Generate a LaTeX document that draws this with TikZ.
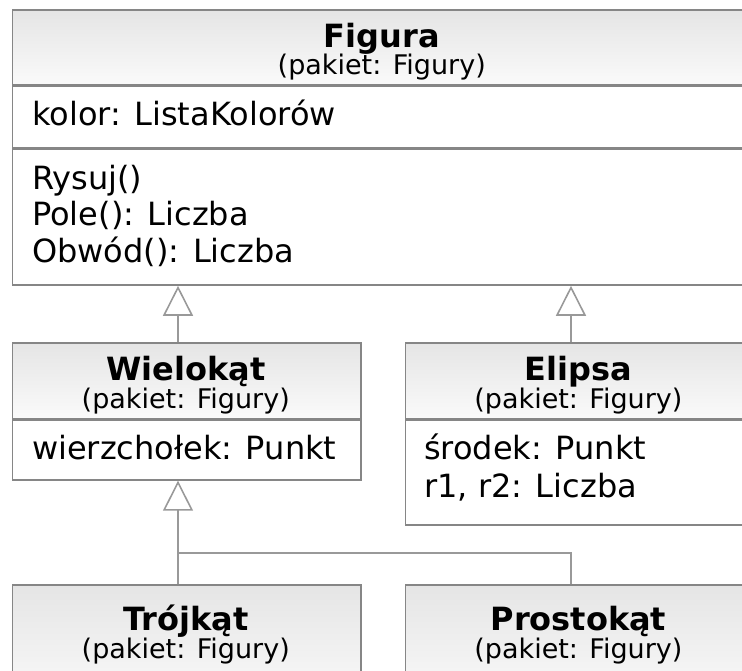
\documentclass[tikz,border=0pt]{standalone}
\usepackage{fontspec}
\setmainfont{DejaVu Sans}
\usetikzlibrary{arrows.meta}
\definecolor{edge}{HTML}{868686}
\definecolor{wirecol}{HTML}{999999}
\definecolor{hdtop}{HTML}{E5E5E5}
\definecolor{hdbot}{HTML}{FAFAFA}
\begin{document}
\begin{tikzpicture}[x=1pt,y=-1pt,
  box/.style={draw=edge, line width=1.6pt, rectangle, inner sep=0pt, anchor=north west},
  head/.style={box, top color=hdtop, bottom color=hdbot},
  comp/.style={box, fill=white},
  title/.style={font=\fontsize{32}{38}\selectfont\bfseries, anchor=base, inner sep=0pt},
  pkg/.style={font=\fontsize{27}{32}\selectfont, anchor=base, inner sep=0pt},
  member/.style={font=\fontsize{32}{38}\selectfont, anchor=base west, inner sep=0pt},
  wire/.style={draw=wirecol, line width=1.8pt},
  gen/.style={wire, -{Triangle[open, length=30pt, width=30pt, line width=1.6pt]}},
]
\useasboundingbox (0,0) rectangle (742,671);
\clip (0,0) rectangle (742,671);

% Figura
\node[head, minimum width=740.5, minimum height=74.7] (figH) at (11.5,9.3) {};
\node[comp, minimum width=740.5, minimum height=61] (figA) at (figH.south west) {};
\node[comp, minimum width=740.5, minimum height=136] (figM) at (figA.south west) {};
\node[title] (figT) at (381.75,48) {Figura};
\node[pkg] (figP) at (381.75,75) {(pakiet: Figury)};
\node[member] (figA1) at (32,126) {kolor: ListaKolorów};
\node[member] (figM1) at (32,190) {Rysuj()};
\node[member] (figM2) at (32,226) {Pole(): Liczba};
\node[member] (figM3) at (32,262) {Obwód(): Liczba};

% Wielokąt
\node[head, minimum width=348.5, minimum height=75.5] (wielH) at (11.5,342) {};
\node[comp, minimum width=348.5, minimum height=60] (wielA) at (wielH.south west) {};
\node[title] (wielT) at (185.75,380) {Wielokąt};
\node[pkg] (wielP) at (185.75,408) {(pakiet: Figury)};
\node[member] (wielA1) at (32,459) {wierzchołek: Punkt};

% Elipsa
\node[head, minimum width=347.3, minimum height=76] (elipH) at (404.7,342) {};
\node[comp, minimum width=347.3, minimum height=104.7] (elipA) at (elipH.south west) {};
\node[title] (elipT) at (578.4,380) {Elipsa};
\node[pkg] (elipP) at (578.4,408) {(pakiet: Figury)};
\node[member] (elipA1) at (424,459) {środek: Punkt};
\node[member] (elipA2) at (424,497) {r1, r2: Liczba};

% Trójkąt
\node[head, minimum width=348.5, minimum height=120] (trojH) at (11.5,584) {};
\node[title] (trojT) at (185.75,630) {Trójkąt};
\node[pkg] (trojP) at (185.75,658) {(pakiet: Figury)};

% Prostokąt
\node[head, minimum width=347.3, minimum height=120] (prosH) at (404.7,584) {};
\node[title] (prosT) at (578.4,630) {Prostokąt};
\node[pkg] (prosP) at (578.4,658) {(pakiet: Figury)};

% generalisation connectors
\coordinate (ax) at (178,0);
\coordinate (bx) at (571,0);
\coordinate (jn) at (178,553);
\draw[gen] (wielH.north -| ax) -- (figM.south -| ax);
\draw[gen] (elipH.north -| bx) -- (figM.south -| bx);
\draw[gen] (jn) -- (wielA.south -| ax);
\draw[wire] (trojH.north -| ax) -- (jn);
\draw[wire] (prosH.north -| bx) |- (jn);
\end{tikzpicture}
\end{document}
